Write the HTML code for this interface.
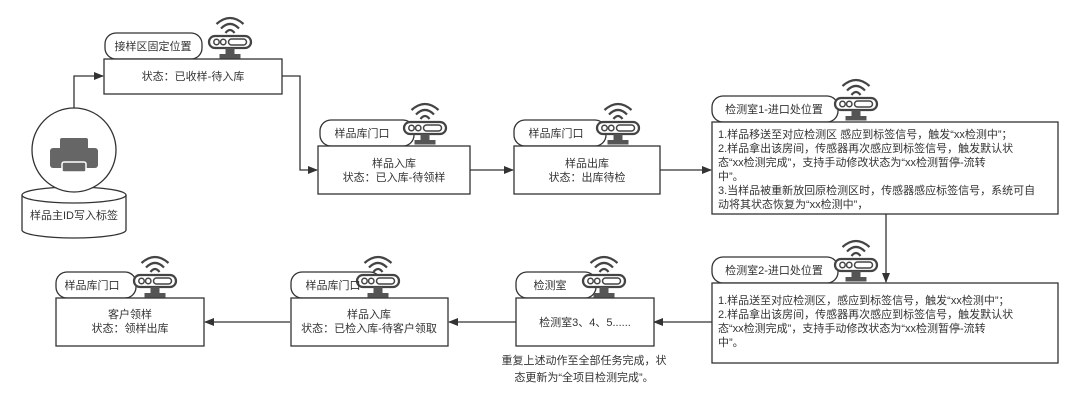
<!DOCTYPE html>
<html><head><meta charset="utf-8"><style>
html,body{margin:0;padding:0;background:#fff;}
svg text{font-family:"Liberation Sans","Noto Sans CJK SC",sans-serif;font-size:11px;fill:#333;}
</style></head><body>
<svg width="1080" height="408" viewBox="0 0 1080 408" xmlns="http://www.w3.org/2000/svg">
<defs>
<marker id="a" markerWidth="10" markerHeight="8" refX="9" refY="4" orient="auto" markerUnits="userSpaceOnUse"><path d="M0,0 L10,4 L0,8 Z" fill="#333"/></marker>
<g id="ic0">
<path d="M-9,-8 Q0,-16 9,-8" fill="none" stroke="#444" stroke-width="1.5"/>
<path d="M-6,-5 Q0,-11 6,-5" fill="none" stroke="#444" stroke-width="1.5"/>
<path d="M-3,-2 Q0,-6 3,-2" fill="none" stroke="#444" stroke-width="1.5"/>
<rect x="-14" y="0" width="28" height="8" rx="4" fill="#fff" stroke="#444" stroke-width="1.5"/>
<circle cx="-9" cy="4" r="1.8" fill="none" stroke="#444"/><circle cx="-4.5" cy="4" r="1.8" fill="none" stroke="#444"/>
<rect x="-1" y="2" width="12" height="4" rx="2" fill="none" stroke="#444"/>
<rect x="-3" y="8" width="6" height="4" fill="#555"/><rect x="-7" y="12" width="14" height="3" fill="#555"/>
</g>
<g id="ic"><use href="#ic0" transform="scale(1.5)"/></g>
</defs>
<g fill="none" stroke="#333" stroke-width="1.3">
<path d="M74,108 V76 H103" marker-end="url(#a)"/>
<path d="M282,76 H300 V170 H317" marker-end="url(#a)"/>
<path d="M470,170 H513" marker-end="url(#a)"/>
<path d="M660,170 H711" marker-end="url(#a)"/>
<path d="M886,214 V282" marker-end="url(#a)"/>
<path d="M712,322 H654" marker-end="url(#a)"/>
<path d="M516,322 H449" marker-end="url(#a)"/>
<path d="M290,322 H205" marker-end="url(#a)"/>
<path d="M22,195 V230 A52,8 0 0 0 126,230 V195" fill="#fff"/>
<ellipse cx="74" cy="195" rx="52" ry="8" fill="#fff"/>
<circle cx="74" cy="150" r="42" fill="#fff"/>
<rect x="105" y="33" width="97" height="26" rx="11" fill="#fff"/>
<rect x="320" y="120" width="94" height="26" rx="11" fill="#fff"/>
<rect x="514" y="120" width="92" height="26" rx="11" fill="#fff"/>
<rect x="712" y="96" width="126" height="26" rx="11" fill="#fff"/>
<rect x="712" y="257" width="126" height="26" rx="11" fill="#fff"/>
<rect x="516" y="272" width="80" height="26" rx="11" fill="#fff"/>
<rect x="291" y="272" width="90" height="26" rx="11" fill="#fff"/>
<rect x="56" y="272" width="80" height="26" rx="11" fill="#fff"/>
<rect x="104" y="59" width="178" height="35" fill="#fff"/>
<rect x="318" y="146" width="152" height="48" fill="#fff"/>
<rect x="514" y="146" width="146" height="48" fill="#fff"/>
<rect x="712" y="122" width="346" height="92" fill="#fff"/>
<rect x="712" y="283" width="346" height="80" fill="#fff"/>
<rect x="516" y="298" width="138" height="48" fill="#fff"/>
<rect x="291" y="298" width="157" height="48" fill="#fff"/>
<rect x="56" y="298" width="148" height="48" fill="#fff"/>
</g>
<g fill="#666">
<rect x="60" y="138" width="28" height="14" rx="2"/>
<rect x="50" y="148" width="48" height="20" rx="3"/>
<rect x="62" y="162" width="24" height="10" rx="2" stroke="#fff" stroke-width="1.5"/>
</g>
<use href="#ic" x="230" y="36"/>
<use href="#ic" x="425" y="122"/>
<use href="#ic" x="618" y="122"/>
<use href="#ic" x="856" y="98"/>
<use href="#ic" x="856" y="259"/>
<use href="#ic" x="604" y="275"/>
<use href="#ic" x="378" y="275"/>
<use href="#ic" x="155" y="275"/>
<g text-anchor="middle">
<text x="153" y="50">接样区固定位置</text>
<text x="193" y="80">状态：已收样-待入库</text>
<text x="74" y="219">样品主ID写入标签</text>
<text x="362" y="137">样品库门口</text>
<text x="394" y="167">样品入库</text>
<text x="394" y="181">状态：已入库-待领样</text>
<text x="556" y="137">样品库门口</text>
<text x="587" y="167">样品出库</text>
<text x="587" y="181">状态：出库待检</text>
<text x="774" y="113">检测室1-进口处位置</text>
<text x="774" y="274">检测室2-进口处位置</text>
<text x="550" y="289">检测室</text>
<text x="585" y="326">检测室3、4、5......</text>
<text x="333" y="289">样品库门口</text>
<text x="369" y="318">样品入库</text>
<text x="369" y="332">状态：已检入库-待客户领取</text>
<text x="92" y="289">样品库门口</text>
<text x="130" y="318">客户领样</text>
<text x="130" y="332">状态：领样出库</text>
<text x="584" y="364">重复上述动作至全部任务完成，状</text>
<text x="584" y="381">态更新为“全项目检测完成”。</text>
</g>
<g font-size="10.5">
<text x="718" y="138">1.样品移送至对应检测区 感应到标签信号，触发“xx检测中”；</text>
<text x="718" y="152">2.样品拿出该房间，传感器再次感应到标签信号，触发默认状</text>
<text x="718" y="166">态“xx检测完成”，支持手动修改状态为“xx检测暂停-流转</text>
<text x="718" y="180">中”。</text>
<text x="718" y="194">3.当样品被重新放回原检测区时，传感器感应标签信号，系统可自</text>
<text x="718" y="208">动将其状态恢复为“xx检测中”，</text>
<text x="718" y="304">1.样品送至对应检测区，感应到标签信号，触发“xx检测中”；</text>
<text x="718" y="318">2.样品拿出该房间，传感器再次感应到标签信号，触发默认状</text>
<text x="718" y="332">态“xx检测完成”，支持手动修改状态为“xx检测暂停-流转</text>
<text x="718" y="346">中”。</text>
</g>
</svg>
</body></html>
